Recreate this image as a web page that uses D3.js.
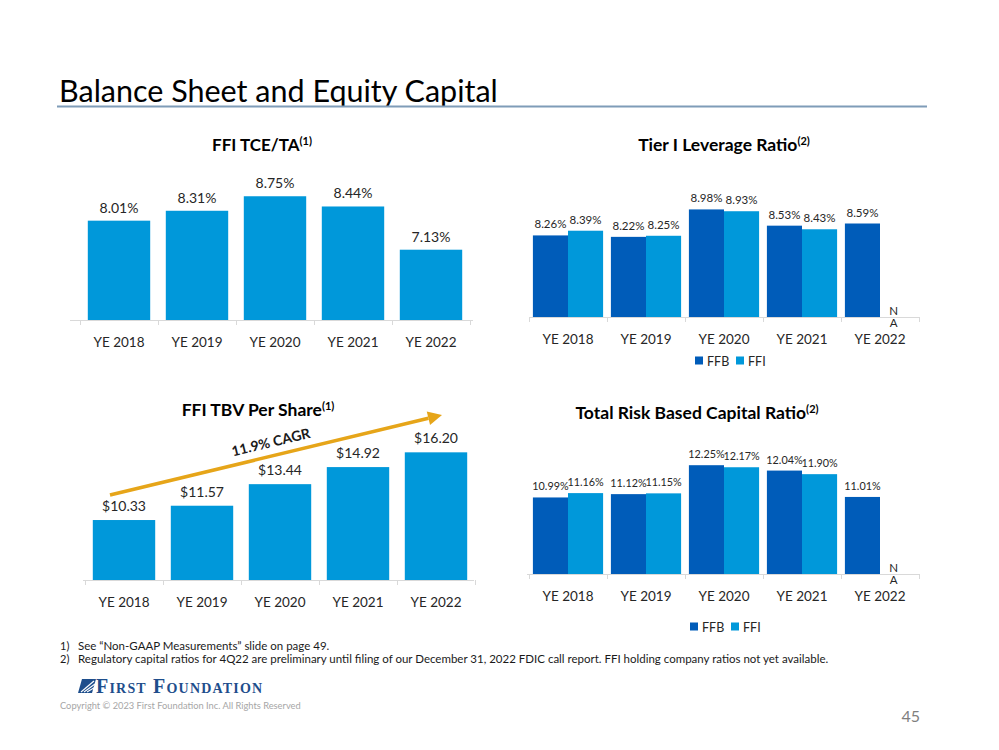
<!DOCTYPE html>
<html><head><meta charset="utf-8">
<script src="https://cdn.jsdelivr.net/npm/d3@7/dist/d3.min.js"></script>
<style>
html,body{margin:0;padding:0;background:#fff;}
svg{display:block;font-family:Lato,"Open Sans",sans-serif;}
</style></head>
<body>
<svg id="c" width="999" height="750"></svg>
<script>
// ---------- data ----------
const years = ["YE 2018","YE 2019","YE 2020","YE 2021","YE 2022"];
const tceTa = [8.01, 8.31, 8.75, 8.44, 7.13];
const tbvPerShare = [10.33, 11.57, 13.44, 14.92, 16.20];
const seriesNames = ["FFB","FFI"];
const tier1FFB = [8.26, 8.22, 8.98, 8.53, 8.59];
const tier1FFI = [8.39, 8.25, 8.93, 8.43, null];
const trbcFFB = [10.99, 11.12, 12.25, 12.04, 11.01];
const trbcFFI = [11.16, 11.15, 12.17, 11.90, null];
const cagrLabel = "11.9% CAGR";
const footnotes = [
  ["1)", "See \u201CNon-GAAP Measurements\u201D slide on page 49."],
  ["2)", "Regulatory capital ratios for 4Q22 are preliminary until filing of our December 31, 2022 FDIC call report. FFI holding company ratios not yet available."]
];

// ---------- styles ----------
const C_FFI = "#0098DA", C_FFB = "#005CB9", C_AXIS = "#D9D9D9", C_TXT = "#262626";
const svg = d3.select("#c");

// page title
svg.append("text").attr("x", 59).attr("y", 102).attr("font-size", 30.5)
  .attr("fill", "#000").text("Balance Sheet and Equity Capital");
svg.append("line").attr("x1", 57).attr("x2", 927).attr("y1", 106.5).attr("y2", 106.5)
  .attr("stroke", "#7F9CB8").attr("stroke-width", 2);

function chartTitle(g, cx, y, main, sup, fs) {
  const t = g.append("text").attr("x", cx).attr("y", y).attr("text-anchor", "middle")
    .attr("font-weight", "bold").attr("font-size", fs).attr("fill", "#000");
  t.append("tspan").text(main);
  t.append("tspan").attr("font-size", 11).attr("dy", -6).text(sup);
}

function axisAndTicks(g, x, base, left, right) {
  g.append("line").attr("x1", left).attr("x2", right).attr("y1", base + 0.5).attr("y2", base + 0.5)
    .attr("stroke", C_AXIS).attr("stroke-width", 1);
  const r = x.range(), step = x.step();
  d3.range(years.length + 1).forEach(i => {
    const xx = Math.round(r[0] + i * step) + 0.5;
    g.append("line").attr("x1", xx).attr("x2", xx).attr("y1", base).attr("y2", base + 5)
      .attr("stroke", C_AXIS);
  });
  const ax = g.append("g").attr("transform", `translate(0,${base})`)
    .call(d3.axisBottom(x).tickSize(0).tickPadding(17));
  ax.select(".domain").remove();
  ax.selectAll("text").attr("font-size", 13.5).attr("fill", C_TXT)
    .attr("font-family", "Lato, sans-serif");
}

// ---------- single-series bar charts ----------
function singleChart(cfg) {
  const g = svg.append("g");
  const x = d3.scaleBand().domain(years).range(cfg.xr).paddingInner(0.2).paddingOuter(0.1);
  const y = d3.scaleLinear().domain(cfg.yd).range([cfg.base, cfg.top]);
  chartTitle(g, cfg.titleX, cfg.titleY, cfg.title, cfg.sup, cfg.titleFs);
  axisAndTicks(g, x, cfg.base, cfg.axL, cfg.axR);
  g.selectAll("rect.b").data(cfg.values).join("rect")
    .attr("x", (d, i) => x(years[i])).attr("width", x.bandwidth())
    .attr("y", d => y(d)).attr("height", d => cfg.base - y(d)).attr("fill", C_FFI);
  g.selectAll("text.v").data(cfg.values).join("text")
    .attr("x", (d, i) => x(years[i]) + x.bandwidth() / 2)
    .attr("y", d => y(d) - cfg.labelGap).attr("text-anchor", "middle")
    .attr("font-size", 14).attr("fill", C_TXT).text(cfg.fmt);
  return { g, x, y };
}

singleChart({ values: tceTa, xr: [80, 470], yd: [5, 10], base: 320, top: 155,
  axL: 70, axR: 473, title: "FFI TCE/TA", sup: "(1)", titleX: 262, titleY: 151, titleFs: 17,
  labelGap: 8, fmt: d => d.toFixed(2) + "%" });

const tbv = singleChart({ values: tbvPerShare, xr: [85, 475], yd: [5.13, 20], base: 580, top: 408.5,
  axL: 83, axR: 474, title: "FFI TBV Per Share", sup: "(1)", titleX: 258, titleY: 416, titleFs: 17.5,
  labelGap: 9, fmt: d => "$" + d.toFixed(2) });

// CAGR arrow
(function () {
  const g = tbv.g, x = tbv.x, y = tbv.y;
  const x0 = x(years[0]) + x.bandwidth() / 2 - 14, y0 = y(tbvPerShare[0]) - 25;
  const x1 = 442, y1 = 415;
  const ang = Math.atan2(y1 - y0, x1 - x0);
  const hl = 14, hw = 7;
  const bx = x1 - hl * Math.cos(ang), by = y1 - hl * Math.sin(ang);
  g.append("line").attr("x1", x0).attr("y1", y0).attr("x2", bx).attr("y2", by)
    .attr("stroke", "#E6A519").attr("stroke-width", 3.5);
  const px = -Math.sin(ang) * hw, py = Math.cos(ang) * hw;
  g.append("path").attr("d", `M${x1},${y1}L${bx + px},${by + py}L${bx - px},${by - py}Z`)
    .attr("fill", "#E6A519");
  const deg = ang * 180 / Math.PI;
  g.append("text").attr("transform", `translate(272,447) rotate(${deg})`)
    .attr("text-anchor", "middle").attr("font-weight", "bold").attr("font-size", 14)
    .attr("fill", "#1a1a1a").text(cagrLabel);
})();

// ---------- grouped bar charts ----------
function groupChart(cfg) {
  const g = svg.append("g");
  const x = d3.scaleBand().domain(years).range(cfg.xr).paddingInner(0.1).paddingOuter(0.05);
  const xs = d3.scaleBand().domain(seriesNames).range([0, x.bandwidth()]);
  const y = d3.scaleLinear().domain(cfg.yd).range([cfg.base, cfg.top]);
  const color = d3.scaleOrdinal().domain(seriesNames).range([C_FFB, C_FFI]);
  chartTitle(g, cfg.titleX, cfg.titleY, cfg.title, "(2)", 17.5);
  axisAndTicks(g, x, cfg.base, cfg.axL, cfg.axR);
  const rows = [];
  years.forEach((yr, i) => seriesNames.forEach((s, j) => rows.push({ yr, s, v: cfg.series[j][i] })));
  g.selectAll("rect.b").data(rows.filter(r => r.v != null)).join("rect")
    .attr("x", d => x(d.yr) + xs(d.s)).attr("width", xs.bandwidth())
    .attr("y", d => y(d.v)).attr("height", d => cfg.base - y(d.v)).attr("fill", d => color(d.s));
  g.selectAll("text.v").data(rows.filter(r => r.v != null)).join("text")
    .attr("x", d => x(d.yr) + xs(d.s) + xs.bandwidth() / 2)
    .attr("y", d => y(d.v) - 7).attr("text-anchor", "middle")
    .attr("font-size", cfg.labelFs).attr("fill", C_TXT).text(d => d.v.toFixed(2) + "%");
  // NA labels
  rows.filter(r => r.v == null).forEach(d => {
    const t = g.append("text").attr("text-anchor", "middle").attr("font-size", 11.5).attr("fill", C_TXT);
    const cx = x(d.yr) + xs(d.s) + xs.bandwidth() / 2 - 4;
    t.append("tspan").attr("x", cx).attr("y", cfg.base - 2).text("N");
    t.append("tspan").attr("x", cx).attr("dy", 12).text("A");
  });
  // legend
  const lg = g.append("g").attr("transform", `translate(${cfg.legX},${cfg.legY})`);
  seriesNames.forEach((s, j) => {
    const ox = j * 41;
    lg.append("rect").attr("x", ox).attr("y", -4.5).attr("width", 8).attr("height", 8).attr("fill", color(s));
    lg.append("text").attr("x", ox + 12).attr("y", 4.5).attr("font-size", 12.5).attr("fill", C_TXT).text(s);
  });
}

groupChart({ series: [tier1FFB, tier1FFI], xr: [529, 919], yd: [6, 10], base: 317, top: 172.6,
  axL: 530, axR: 920, title: "Tier I Leverage Ratio", titleX: 724, titleY: 151, legX: 695, legY: 361, labelFs: 11.5 });

groupChart({ series: [trbcFFB, trbcFFI], xr: [529, 919], yd: [8, 14], base: 574, top: 420.4,
  axL: 527, axR: 920, title: "Total Risk Based Capital Ratio", titleX: 697, titleY: 419, legX: 690, legY: 627, labelFs: 10.8 });

// ---------- footnotes ----------
footnotes.forEach((f, i) => {
  svg.append("text").attr("x", 60).attr("y", 650 + i * 13).attr("font-size", 11).attr("fill", "#1a1a1a").text(f[0]);
  svg.append("text").attr("x", 78).attr("y", 650 + i * 13).attr("font-size", 11.5).attr("fill", "#1a1a1a").text(f[1]);
});

// ---------- logo ----------
const logo = svg.append("g").attr("transform", "translate(78,679)");
logo.append("path").attr("d", "M4,0 L18,0 L14,14 L0,14 Z").attr("fill", "#1E4E8C");
[[3, 13, 16, 2], [6, 13, 17, 5], [9, 13, 17.5, 8]].forEach(l => {
  logo.append("line").attr("x1", l[0]).attr("y1", l[1]).attr("x2", l[2]).attr("y2", l[3])
    .attr("stroke", "#fff").attr("stroke-width", 1.1);
});
svg.append("text").attr("x", 96).attr("y", 693).attr("font-family", "Liberation Serif, serif")
  .attr("font-weight", "bold").attr("font-size", 20).attr("letter-spacing", 1.2).style("font-variant", "small-caps")
  .attr("fill", "#1E4E8C").text("First Foundation");
svg.append("text").attr("x", 60).attr("y", 709).attr("font-size", 9.3).attr("fill", "#A6A6A6")
  .text("Copyright \u00A9 2023 First Foundation Inc. All Rights Reserved");
svg.append("text").attr("x", 920).attr("y", 722).attr("text-anchor", "end").attr("font-size", 16)
  .attr("fill", "#7F7F7F").text("45");
</script>
</body></html>
